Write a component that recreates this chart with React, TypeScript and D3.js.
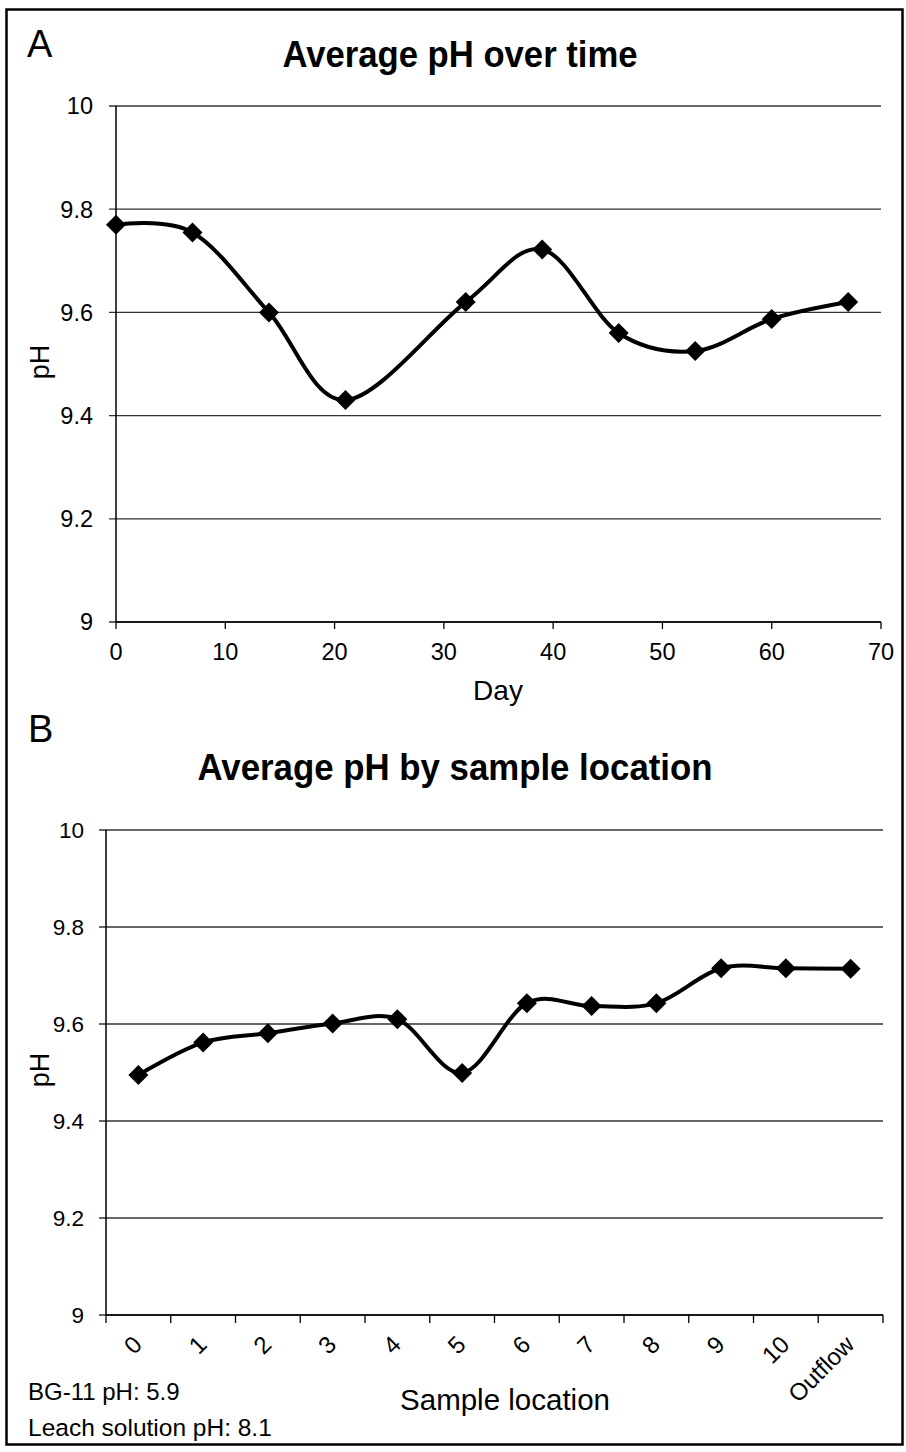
import React from "react";
import * as d3 from "d3";

// Panel A: average pH by sampling day
const dayValues = [0, 7, 14, 21, 32, 39, 46, 53, 60, 67];
const phByDay = [9.77, 9.755, 9.6, 9.43, 9.62, 9.722, 9.56, 9.525, 9.587, 9.62];
const dayTicks = [0, 10, 20, 30, 40, 50, 60, 70];

// Panel B: average pH by sample location
const locations = ["0", "1", "2", "3", "4", "5", "6", "7", "8", "9", "10", "Outflow"];
const phByLocation = [9.495, 9.562, 9.581, 9.601, 9.61, 9.499, 9.643, 9.637, 9.643, 9.715, 9.715, 9.714];

const phTicks = [9, 9.2, 9.4, 9.6, 9.8, 10];

const FONT = "'Liberation Sans', Arial, Helvetica, sans-serif";

const smooth = d3.curveCardinal.tension(0);

function Diamond({ x, y }: { x: number; y: number }) {
  const r = 10;
  return (
    <path
      d={`M${x},${y - r}L${x + r},${y}L${x},${y + r}L${x - r},${y}Z`}
      fill="#000"
    />
  );
}

export default function App() {
  // Panel A scales
  const xA = d3.scaleLinear().domain([0, 70]).range([116, 881]);
  const yA = d3.scaleLinear().domain([9, 10]).range([622, 106]);
  const lineA = d3
    .line<number>()
    .x((_, i) => xA(dayValues[i]))
    .y((v) => yA(v))
    .curve(smooth);

  // Panel B scales
  const xB = d3.scaleBand<string>().domain(locations).range([106, 883]);
  const yB = d3.scaleLinear().domain([9, 10]).range([1315, 830]);
  const cB = (c: string) => (xB(c) as number) + xB.bandwidth() / 2;
  const lineB = d3
    .line<number>()
    .x((_, i) => cB(locations[i]))
    .y((v) => yB(v))
    .curve(smooth);

  const bandEdges = locations.map((c) => xB(c) as number).concat([883]);

  return (
    <svg
      width={906}
      height={1452}
      style={{ position: "absolute", left: 0, top: 0, background: "#fff" }}
      fontFamily={FONT}
    >
      <rect x={0} y={0} width={906} height={1452} fill="#fff" />
      <rect x={6.5} y={9.5} width={896} height={1435} fill="none" stroke="#000" strokeWidth={2.5} />

      {/* ---------- Panel A ---------- */}
      <text x={27} y={57} fontSize={38}>A</text>
      <text
        x={460}
        y={67}
        fontSize={36}
        fontWeight="bold"
        textAnchor="middle"
        textLength={355}
        lengthAdjust="spacingAndGlyphs"
      >
        Average pH over time
      </text>

      {phTicks.map((t) => (
        <g key={"ga" + t}>
          <line x1={109} x2={881} y1={yA(t)} y2={yA(t)} stroke="#333" strokeWidth={1.3} />
          <text x={93} y={yA(t)} dy="0.36em" fontSize={23.5} textAnchor="end">
            {String(t)}
          </text>
        </g>
      ))}
      <line x1={116} x2={116} y1={106} y2={622} stroke="#000" strokeWidth={1.5} />
      <line x1={116} x2={881} y1={622} y2={622} stroke="#000" strokeWidth={1.5} />
      {dayTicks.map((t) => (
        <g key={"ta" + t}>
          <line x1={xA(t)} x2={xA(t)} y1={622} y2={629} stroke="#000" strokeWidth={1.3} />
          <text x={xA(t)} y={652} dy="0.36em" fontSize={23.5} textAnchor="middle">
            {t}
          </text>
        </g>
      ))}
      <text x={498} y={700} fontSize={28} textAnchor="middle">Day</text>
      <text
        transform={`translate(49,362) rotate(-90)`}
        fontSize={27}
        textAnchor="middle"
      >
        pH
      </text>

      <path d={lineA(phByDay) || ""} fill="none" stroke="#000" strokeWidth={4} />
      {phByDay.map((v, i) => (
        <Diamond key={"ma" + i} x={xA(dayValues[i])} y={yA(v)} />
      ))}

      {/* ---------- Panel B ---------- */}
      <text x={28} y={742} fontSize={38}>B</text>
      <text
        x={455}
        y={780}
        fontSize={36}
        fontWeight="bold"
        textAnchor="middle"
        textLength={515}
        lengthAdjust="spacingAndGlyphs"
      >
        Average pH by sample location
      </text>

      {phTicks.map((t) => (
        <g key={"gb" + t}>
          <line x1={99} x2={883} y1={yB(t)} y2={yB(t)} stroke="#333" strokeWidth={1.3} />
          <text x={84} y={yB(t)} dy="0.36em" fontSize={22.5} textAnchor="end">
            {String(t)}
          </text>
        </g>
      ))}
      <line x1={106} x2={106} y1={830} y2={1315} stroke="#000" strokeWidth={1.5} />
      <line x1={106} x2={883} y1={1315} y2={1315} stroke="#000" strokeWidth={1.5} />
      {bandEdges.map((x, i) => (
        <line key={"tb" + i} x1={x} x2={x} y1={1315} y2={1323} stroke="#000" strokeWidth={1.3} />
      ))}
      {locations.map((c) => (
        <text
          key={"lb" + c}
          transform={`translate(${cB(c) - 1},1340) rotate(-45)`}
          dy="0.36em"
          fontSize={24}
          textAnchor="end"
        >
          {c}
        </text>
      ))}
      <text x={505} y={1410} fontSize={29.5} textAnchor="middle">Sample location</text>
      <text
        transform={`translate(49,1070) rotate(-90)`}
        fontSize={27}
        textAnchor="middle"
      >
        pH
      </text>

      <path d={lineB(phByLocation) || ""} fill="none" stroke="#000" strokeWidth={4} />
      {phByLocation.map((v, i) => (
        <Diamond key={"mb" + i} x={cB(locations[i])} y={yB(v)} />
      ))}

      <text x={28} y={1400} fontSize={24}>BG-11 pH: 5.9</text>
      <text x={28} y={1436} fontSize={24.5}>Leach solution pH: 8.1</text>
    </svg>
  );
}
